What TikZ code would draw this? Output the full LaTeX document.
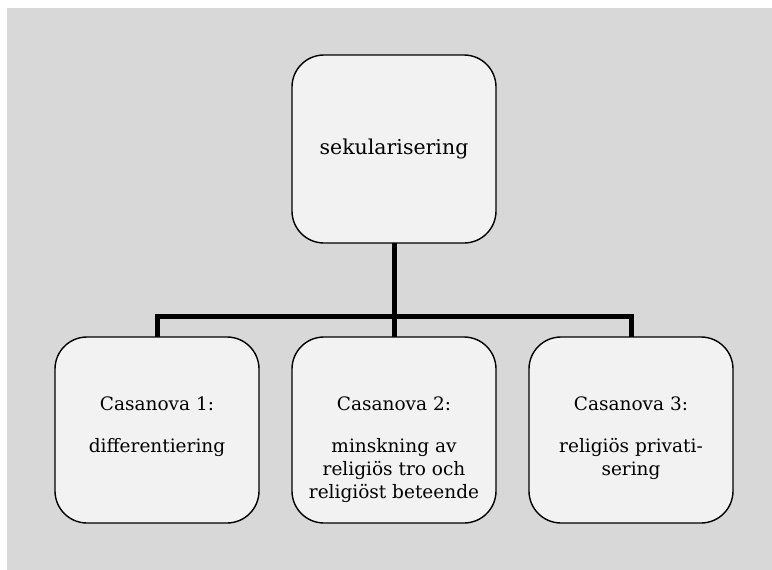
\documentclass[tikz,border=0pt]{standalone}
\usepackage{fontspec}
\setmainfont{DejaVu Serif}
\definecolor{bggray}{HTML}{D8D8D8}
\definecolor{boxfill}{HTML}{F2F2F2}
\begin{document}
\begin{tikzpicture}[x=1pt,y=1pt,
  boxnode/.style={draw=black, line width=1.4pt, fill=boxfill, rounded corners=32pt,
    minimum width=204pt, inner sep=0pt, outer sep=0pt},
  boxtext/.style={anchor=north, align=center, inner sep=0pt, text=black,
    font=\fontsize{18.5}{23}\selectfont},
  conn/.style={line width=5pt, draw=black}]
\useasboundingbox (0,0) rectangle (772,-570);
\fill[bggray] (7,-8) rectangle (772,-570);
\node[boxnode, minimum height=188pt, font=\fontsize{20.5}{24}\selectfont, text=black] (top) at (394,-149) {sekularisering};
\node[boxnode, minimum height=186pt] (b1) at (157,-430) {};
\node[boxnode, minimum height=186pt] (b2) at (394,-430) {};
\node[boxnode, minimum height=186pt] (b3) at (631,-430) {};
\node[boxtext] (t1) at (157,-397) {Casanova 1:\\[19pt]differentiering};
\node[boxtext] (t2) at (394,-397) {Casanova 2:\\[19pt]minskning av\\religiös tro och\\religiöst beteende};
\node[boxtext] (t3) at (631,-397) {Casanova 3:\\[19pt]religiös privati-\\sering};
\coordinate (bar) at (394,-316);
\draw[conn] (top.south) -- (bar);
\draw[conn] (b1.north) -- (b1.north |- bar) -- (b3.north |- bar) -- (b3.north);
\draw[conn] (bar) -- (b2.north);
\end{tikzpicture}
\end{document}
